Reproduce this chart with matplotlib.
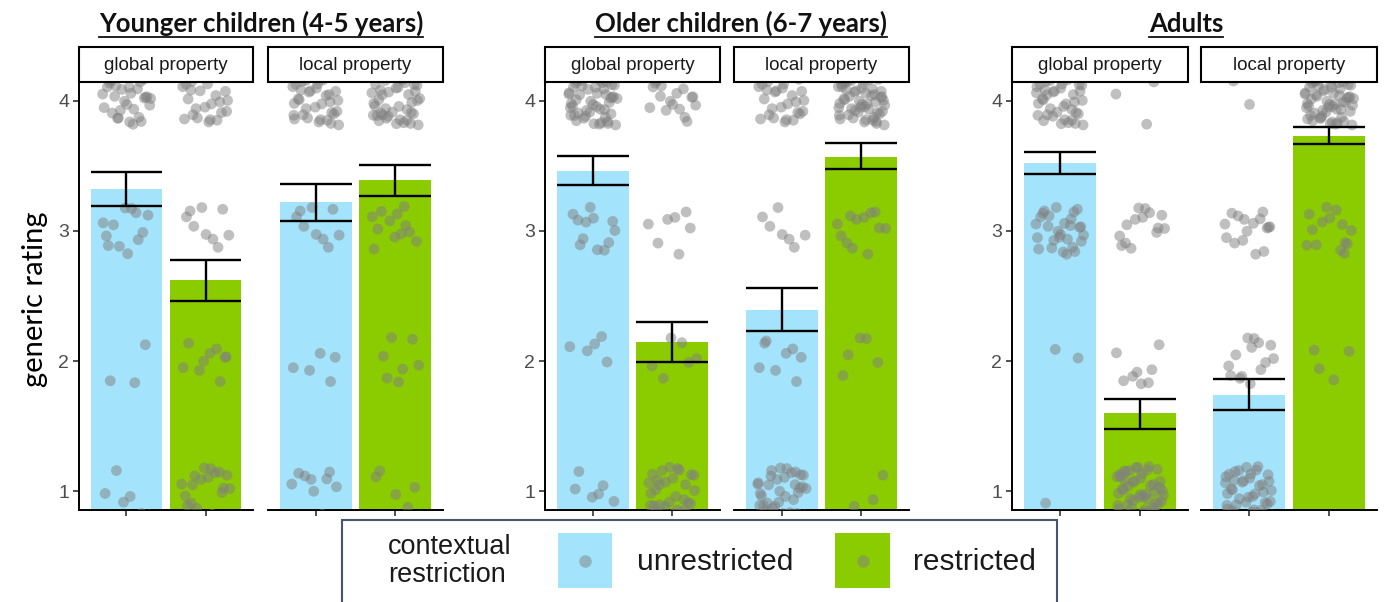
import matplotlib
matplotlib.use("Agg")
import matplotlib.pyplot as plt
from matplotlib.patches import Rectangle
from matplotlib.lines import Line2D
import numpy as np

# ---------------- data ----------------
groups = ["Younger children (4-5 years)", "Older children (6-7 years)", "Adults"]
properties = ["global property", "local property"]
restrictions = ["unrestricted", "restricted"]
ratings = [1, 2, 3, 4]

# order within each group: global-unrestricted, global-restricted, local-unrestricted, local-restricted
mean_younger = [3.32, 2.62, 3.22, 3.39]
lo_younger = [3.19, 2.46, 3.08, 3.27]
hi_younger = [3.45, 2.78, 3.36, 3.51]

mean_older = [3.46, 2.15, 2.39, 3.57]
lo_older = [3.35, 1.99, 2.23, 3.48]
hi_older = [3.58, 2.30, 2.56, 3.68]

mean_adults = [3.52, 1.60, 1.74, 3.73]
lo_adults = [3.44, 1.48, 1.62, 3.67]
hi_adults = [3.61, 1.71, 1.86, 3.80]

# number of participants' responses at rating 1, 2, 3, 4
counts_younger = [[6, 3, 12, 30], [18, 9, 9, 24], [9, 5, 9, 35], [5, 7, 12, 42]]
counts_older = [[6, 5, 12, 50], [32, 6, 7, 18], [35, 8, 7, 28], [3, 5, 12, 55]]
counts_adults = [[1, 2, 28, 40], [48, 8, 14, 3], [40, 14, 16, 2], [0, 4, 14, 60]]

# hand-written jitter table (fractions of the jitter width/height)
jitter_dx = [0.62, -0.41, 0.93, -0.87, 0.15, -0.12, 0.77, -0.66, 0.34, -0.95,
             0.05, 0.48, -0.29, 0.88, -0.53, 0.21, -0.74, 0.67, -0.05, 0.39,
             -0.82, 0.99, -0.36, 0.11, -0.58, 0.73, -0.19, 0.56, -0.97, 0.27,
             -0.44, 0.84, -0.08, 0.45, -0.69, 0.18, -0.91, 0.60, -0.25, 0.79,
             -0.63, 0.02, 0.51, -0.78, 0.30, -0.15, 0.95, -0.48, 0.70, -0.33,
             0.13, -0.86, 0.42, -0.02, 0.86, -0.56, 0.24, -0.71, 0.58, -0.22,
             0.08, -0.93, 0.36, -0.39, 0.81, -0.60, 0.19, -0.80, 0.65, -0.10,
             0.47, -0.51, 0.90, -0.27, 0.03, 0.74, -0.67, 0.29, -0.89, 0.54]
jitter_dy = [-0.35, 0.72, 0.08, -0.91, 0.55, -0.17, 0.96, -0.62, 0.31, -0.04,
             0.83, -0.49, 0.19, -0.78, 0.64, -0.27, 0.41, -0.97, 0.12, 0.88,
             -0.56, 0.25, -0.83, 0.69, -0.10, 0.47, -0.69, 0.02, 0.91, -0.38,
             0.58, -0.22, 0.77, -0.85, 0.36, -0.59, 0.15, 0.99, -0.45, 0.28,
             -0.73, 0.52, -0.06, 0.81, -0.31, 0.66, -0.94, 0.22, -0.52, 0.93,
             -0.14, 0.39, -0.80, 0.61, -0.25, 0.05, 0.74, -0.66, 0.44, -0.88,
             0.17, -0.42, 0.85, -0.20, 0.57, -0.76, 0.33, -0.01, 0.79, -0.58,
             0.10, -0.33, 0.68, -0.92, 0.49, -0.12, 0.26, -0.70, 0.95, -0.47]

means = [mean_younger, mean_older, mean_adults]
lows = [lo_younger, lo_older, lo_adults]
highs = [hi_younger, hi_older, hi_adults]
counts = [counts_younger, counts_older, counts_adults]

# ---------------- style ----------------
W, H = 1385, 602
BLUE = "#a3e3fb"
GREEN = "#8acc00"
PT_COLOR = "#808080"
SANS = ["Liberation Sans", "DejaVu Sans"]
TITLE_FONT = ["Lato", "DejaVu Sans"]

fig = plt.figure(figsize=(W / 100, H / 100), dpi=100)

panel_x = [[(79, 253), (268, 443)],
           [(545, 720), (734, 909)],
           [(1012, 1188), (1201, 1377)]]
title_cx = [261, 741, 1186]
PTOP, PBOT = 82, 510
STRIP_TOP = 47
YMIN, YMAX = 0.854, 4.146


def fx(px):
    return px / W


def fy(py):
    return 1 - py / H


title_texts = []
for g in range(3):
    for p in range(2):
        x0, x1 = panel_x[g][p]
        ax = fig.add_axes([fx(x0), fy(PBOT), (x1 - x0) / W, (PBOT - PTOP) / H])
        ax.set_xlim(0.4, 2.6)
        ax.set_ylim(YMIN, YMAX)
        for s in ["top", "right"]:
            ax.spines[s].set_visible(False)
        ax.spines["bottom"].set_linewidth(1.4)
        ax.spines["left"].set_linewidth(1.4)
        ax.set_xticks([1, 2])
        ax.set_xticklabels([])
        ax.tick_params(axis="x", length=4, width=1.2, color="#333333")
        if p == 0:
            ax.set_yticks(ratings)
            ax.set_yticklabels([str(r) for r in ratings], fontfamily=SANS,
                               fontsize=14, color="#4d4d4d")
            ax.tick_params(axis="y", length=4, width=1.2, color="#333333", pad=3)
        else:
            ax.spines["left"].set_visible(False)
            ax.set_yticks([])

        for r in range(2):
            k = 2 * p + r
            xc = r + 1
            m = means[g][k]
            ax.bar(xc, m - YMIN, bottom=YMIN, width=0.9,
                   color=BLUE if r == 0 else GREEN, zorder=1)
            # jittered points
            xs, ys = [], []
            idx = (g * 4 + k) * 13
            for lvl, n in zip(ratings, counts[g][k]):
                for _ in range(n):
                    j = idx % len(jitter_dx)
                    jy = (idx * 7 + 3) % len(jitter_dy)
                    xs.append(xc + 0.31 * jitter_dx[j])
                    ys.append(lvl + 0.19 * jitter_dy[jy])
                    idx += 1
            ax.scatter(xs, ys, s=60, color=PT_COLOR, alpha=0.5,
                       edgecolors="none", zorder=3)
            # error bars
            lo, hi = lows[g][k], highs[g][k]
            ax.vlines(xc, lo, hi, color="black", lw=1.7, zorder=4)
            ax.hlines([lo, hi], xc - 0.45, xc + 0.45, color="black", lw=1.7,
                      zorder=4)

        # strip
        fig.patches.append(Rectangle((fx(x0), fy(PTOP)), (x1 - x0) / W,
                                     (PTOP - STRIP_TOP) / H, transform=fig.transFigure,
                                     facecolor="white", edgecolor="black",
                                     lw=1.5, zorder=5))
        fig.text(fx((x0 + x1) / 2), fy((PTOP + STRIP_TOP) / 2 + 1), properties[p],
                 ha="center", va="center", fontsize=13.5, fontfamily=SANS,
                 color="#1a1a1a", zorder=6)

    t = fig.text(fx(title_cx[g]), fy(32), groups[g], ha="center", va="baseline",
                 fontsize=18.5, fontweight="bold", fontfamily=TITLE_FONT,
                 color="#111111")
    title_texts.append(t)

# y label
fig.text(fx(35), fy(299), "generic rating", rotation=90, ha="center", va="center",
         fontsize=21, fontfamily=TITLE_FONT, color="black")

# underline the group titles
fig.canvas.draw()
renderer = fig.canvas.get_renderer()
for t in title_texts:
    bb = t.get_window_extent(renderer=renderer)
    yline = fy(36.5)
    fig.add_artist(Line2D([bb.x0 / W, bb.x1 / W], [yline, yline],
                          transform=fig.transFigure, color="#111111", lw=1.3))

# legend box
fig.patches.append(Rectangle((fx(342), -0.02), (1057 - 342) / W, fy(520) + 0.02,
                             transform=fig.transFigure, facecolor="white",
                             edgecolor="#47566b", lw=1.5, zorder=5, clip_on=False))
fig.text(fx(388), fy(561), "contextual\nrestriction", ha="left", va="center",
         multialignment="left", fontsize=19.5, fontfamily=SANS, color="#1a1a1a",
         linespacing=1.05, zorder=6)
key_x = [(558, 612), (835, 890)]
label_x = [637, 913]
for i, lab in enumerate(restrictions):
    kx0, kx1 = key_x[i]
    fig.patches.append(Rectangle((fx(kx0), fy(588)), (kx1 - kx0) / W, (588 - 533) / H,
                                 transform=fig.transFigure,
                                 facecolor=BLUE if i == 0 else GREEN,
                                 edgecolor="none", zorder=6))
    fig.add_artist(Line2D([fx((kx0 + kx1) / 2)], [fy(560.5)], marker="o",
                          markersize=9, color=PT_COLOR, alpha=0.5, lw=0,
                          markeredgewidth=0, transform=fig.transFigure, zorder=7))
    fig.text(fx(label_x[i]), fy(562), lab, ha="left", va="center", fontsize=21.5,
             fontfamily=SANS, color="#1a1a1a", zorder=7)

fig.savefig("out.png", dpi=100)
